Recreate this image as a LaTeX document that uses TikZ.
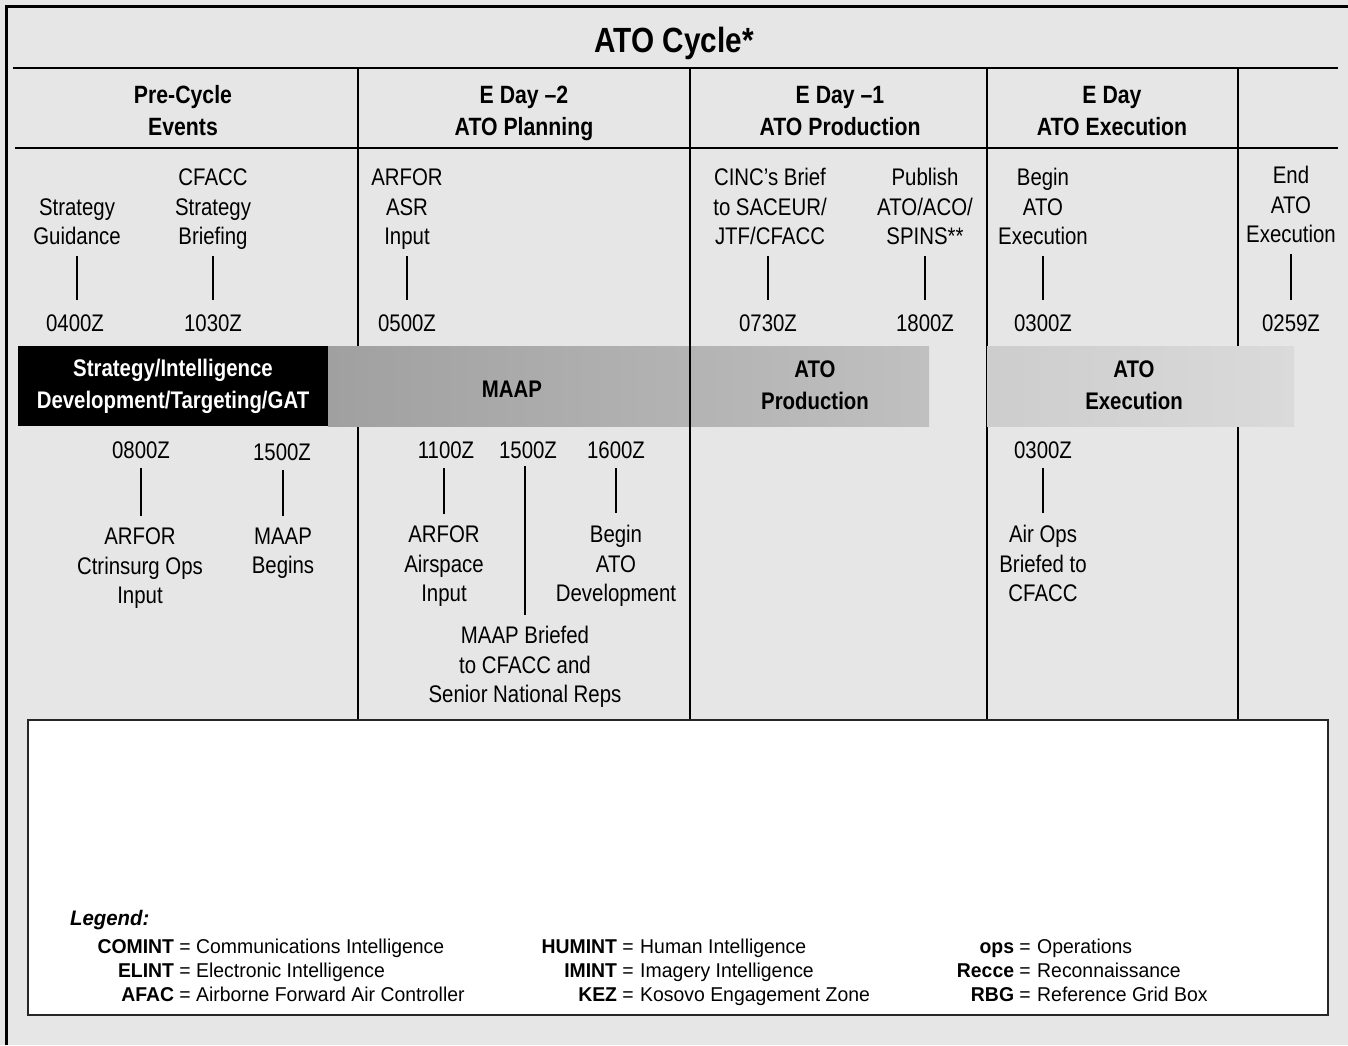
\documentclass[tikz,border=0pt]{standalone}
\usepackage{fontspec}
\setmainfont{Liberation Sans}[FakeStretch=0.85]
\newfontfamily\legendfont{Liberation Sans}[FakeStretch=0.97]
\definecolor{panel}{HTML}{E6E6E6}
\definecolor{maapL}{HTML}{A0A0A0}
\definecolor{maapR}{HTML}{C0C0C0}
\definecolor{execL}{HTML}{CDCDCD}
\definecolor{execR}{HTML}{DADADA}
\tikzset{
  frame/.style={line width=3pt},
  rule/.style={line width=2.5pt},
  divider/.style={line width=2pt},
  tick/.style={line width=2.5pt},
  titletxt/.style={font=\bfseries\fontsize{35}{40}\selectfont, inner sep=0pt, anchor=base},
  hdr/.style={font=\bfseries\fontsize{25}{32}\selectfont, align=center, inner sep=0pt, text depth=0pt, anchor=south},
  lbl/.style={font=\fontsize{24}{29.5}\selectfont, align=center, inner sep=0pt, text depth=0pt, anchor=south},
  time/.style={font=\fontsize{24}{29.5}\selectfont, inner sep=0pt, anchor=base},
  bartxt/.style={font=\bfseries\fontsize{24}{32}\selectfont, align=center, inner sep=0pt, text depth=0pt, anchor=south},
  legabbr/.style={font=\legendfont\fontsize{20}{24}\selectfont, inner sep=0pt, anchor=base east},
  legdef/.style={font=\legendfont\fontsize{20}{24}\selectfont, inner sep=0pt, anchor=base west},
  uptick/.style={tick, shorten <=11pt, shorten >=14pt},
  downtick/.style={tick, shorten <=10pt, shorten >=12pt},
}
\begin{document}
\begin{tikzpicture}[x=1pt,y=-1pt]
\useasboundingbox (0,0) rectangle (1348,1045);
\fill[panel] (0,0) rectangle (1348,1045);

% outer frame and header rules
\draw[frame] (6,1045) -- (6,6) -- (1348,6);
\draw[rule] (13,68) -- (1338,68);
\draw[rule] (15,148) -- (1338,148);

% column dividers (the one at 690 is drawn over the bars later)
\draw[divider] (358,68) -- (358,720);
\draw[divider] (987,68) -- (987,720);
\draw[divider] (1238,68) -- (1238,720);

% title and column headings
\node[titletxt] (title) at (674,52) {ATO Cycle*};
\node[hdr] (h1) at (183,136) {Pre-Cycle\\Events};
\node[hdr] (h2) at (524,136) {E Day –2\\ATO Planning};
\node[hdr] (h3) at (840,136) {E Day –1\\ATO Production};
\node[hdr] (h4) at (1112,136) {E Day\\ATO Execution};

% phase bars
\fill[black] (18,346) rectangle (328,426);
\shade[left color=maapL, right color=maapR] (328,346) rectangle (929,426);
\shade[left color=execL, right color=execR] (987,346) rectangle (1294,426);
\draw[divider] (690,68) -- (690,720);

\node[bartxt, text=white] (b1) at (173,409) {Strategy/Intelligence\\Development/Targeting/GAT};
\node[bartxt] (b2) at (512,398) {MAAP};
\node[bartxt] (b3) at (815,410) {ATO\\Production};
\node[bartxt] (b4) at (1134,410) {ATO\\Execution};

% events above the bars
\node[lbl] (e1) at (77,245) {Strategy\\Guidance};
\node[time] (t1) at (75,331) {0400Z};
\node[lbl] (e2) at (213,245) {CFACC\\Strategy\\Briefing};
\node[time] (t2) at (213,331) {1030Z};
\node[lbl] (e3) at (407,245) {ARFOR\\ASR\\Input};
\node[time] (t3) at (407,331) {0500Z};
\node[lbl] (e4) at (770,245) {CINC’s Brief\\to SACEUR/\\JTF/CFACC};
\node[time] (t4) at (768,331) {0730Z};
\node[lbl] (e5) at (925,245) {Publish\\ATO/ACO/\\SPINS**};
\node[time] (t5) at (925,331) {1800Z};
\node[lbl] (e6) at (1043,245) {Begin\\ATO\\Execution};
\node[time] (t6) at (1043,331) {0300Z};
\node[lbl] (e7) at (1291,243) {End\\ATO\\Execution};
\node[time] (t7) at (1291,331) {0259Z};

\draw[uptick] (e1.south) -- (e1.south |- t1.north);
\draw[uptick] (e2.south) -- (e2.south |- t2.north);
\draw[uptick] (e3.south) -- (e3.south |- t3.north);
\draw[uptick] (t4.north |- e4.south) -- (t4.north);
\draw[uptick] (e5.south) -- (e5.south |- t5.north);
\draw[uptick] (e6.south) -- (e6.south |- t6.north);
\draw[uptick] (e7.south) -- (e7.south |- t7.north);

% events below the bars
\node[time] (u1) at (141,458) {0800Z};
\node[lbl] (f1) at (140,604) {ARFOR\\Ctrinsurg Ops\\Input};
\node[time] (u2) at (282,460) {1500Z};
\node[lbl] (f2) at (283,574) {MAAP\\Begins};
\node[time] (u3) at (446,458) {1100Z};
\node[lbl] (f3) at (444,602) {ARFOR\\Airspace\\Input};
\node[time] (u4) at (528,458) {1500Z};
\node[lbl] (f4) at (525,703) {MAAP Briefed\\to CFACC and\\Senior National Reps};
\node[time] (u5) at (616,458) {1600Z};
\node[lbl] (f5) at (616,602) {Begin\\ATO\\Development};
\node[time] (u6) at (1043,458) {0300Z};
\node[lbl] (f6) at (1043,602) {Air Ops\\Briefed to\\CFACC};

\draw[downtick] (u1.south) -- (u1.south |- f1.north);
\draw[downtick] (f2.north |- u2.south) -- (f2.north);
\draw[downtick] (f3.north |- u3.south) -- (f3.north);
\draw[tick, shorten <=8pt, shorten >=11pt] (f4.north |- u4.south) -- (f4.north);
\draw[downtick] (f5.north |- u5.south) -- (f5.north);
\draw[downtick] (u6.south) -- (u6.south |- f6.north);

% legend box
\filldraw[fill=white, draw=black!85, line width=2pt] (28,720) rectangle (1328,1015);
\node[font=\legendfont\bfseries\itshape\fontsize{21}{24}\selectfont, inner sep=0pt, anchor=base west] (leg) at (70,925) {Legend:};

\node[legabbr] (a1) at (191,953) {\textbf{COMINT} =};
\node[legdef]  (d1) at (196,953) {Communications Intelligence};
\node[legabbr] (a2) at (191,977) {\textbf{ELINT} =};
\node[legdef]  (d2) at (196,977) {Electronic Intelligence};
\node[legabbr] (a3) at (191,1001) {\textbf{AFAC} =};
\node[legdef]  (d3) at (196,1001) {Airborne Forward Air Controller};

\node[legabbr] (a4) at (634,953) {\textbf{HUMINT} =};
\node[legdef]  (d4) at (640,953) {Human Intelligence};
\node[legabbr] (a5) at (634,977) {\textbf{IMINT} =};
\node[legdef]  (d5) at (640,977) {Imagery Intelligence};
\node[legabbr] (a6) at (634,1001) {\textbf{KEZ} =};
\node[legdef]  (d6) at (640,1001) {Kosovo Engagement Zone};

\node[legabbr] (a7) at (1031,953) {\textbf{ops} =};
\node[legdef]  (d7) at (1037,953) {Operations};
\node[legabbr] (a8) at (1031,977) {\textbf{Recce} =};
\node[legdef]  (d8) at (1037,977) {Reconnaissance};
\node[legabbr] (a9) at (1031,1001) {\textbf{RBG} =};
\node[legdef]  (d9) at (1037,1001) {Reference Grid Box};
\end{tikzpicture}
\end{document}
